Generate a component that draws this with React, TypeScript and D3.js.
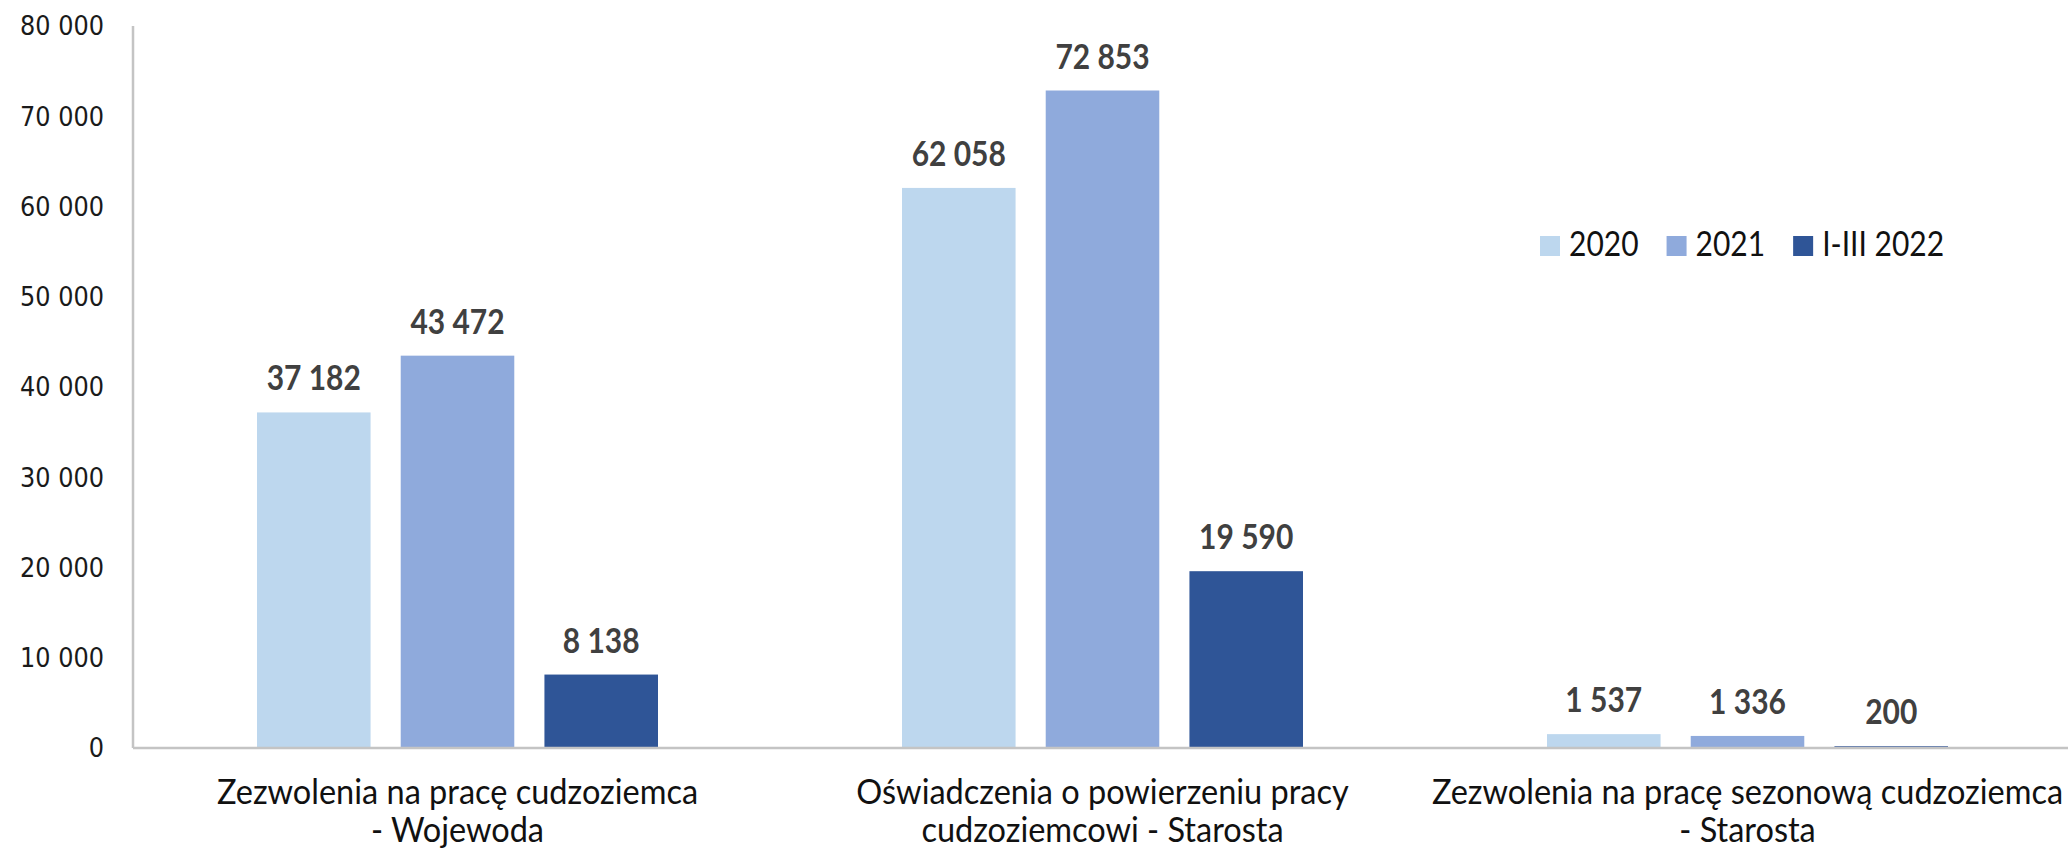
import React, { useEffect, useRef } from "react";
import * as d3 from "d3";

const categories = [
  ["Zezwolenia na pracę cudzoziemca", "- Wojewoda"],
  ["Oświadczenia o powierzeniu pracy", "cudzoziemcowi - Starosta"],
  ["Zezwolenia na pracę sezonową cudzoziemca", "- Starosta"],
];
const seriesNames = ["2020", "2021", "I-III 2022"];
const seriesColors = ["#BDD7EE", "#8FAADC", "#2F5597"];
const values2020 = [37182, 62058, 1537];
const values2021 = [43472, 72853, 1336];
const values2022 = [8138, 19590, 200];
const yTicks = [0, 10000, 20000, 30000, 40000, 50000, 60000, 70000, 80000];

const W = 2068;
const H = 851;
const fmt = (v: number) => d3.format(",")(v).replace(/,/g, " ");
const TXT = "Lato, 'Open Sans', sans-serif";
const VS = 1.15; // Calibri-like text looks stretched upward a bit

const App = () => {
  const svgRef = useRef<SVGSVGElement>(null);

  useEffect(() => {
    document.body.style.margin = "0";
    const svg = d3.select(svgRef.current);
    svg.selectAll("*").remove();

    const m = { left: 133, right: 0, top: 26, bottom: 103 };
    const x0 = d3
      .scaleBand<number>()
      .domain(d3.range(categories.length))
      .range([m.left, W - m.right])
      .paddingInner(0)
      .paddingOuter(0);
    const groupW = 401;
    const x1 = d3
      .scaleBand<number>()
      .domain(d3.range(seriesNames.length))
      .range([0, groupW])
      .paddingInner(30 / 143)
      .paddingOuter(0);
    const y = d3.scaleLinear().domain([0, 80000]).range([H - m.bottom, m.top]);

    const series = [values2020, values2021, values2022];
    const barX = (i: number, si: number) => x0(i)! + (x0.bandwidth() - groupW) / 2 + x1(si)! + 2;

    // y axis line
    svg
      .append("line")
      .attr("x1", m.left)
      .attr("x2", m.left)
      .attr("y1", y(80000))
      .attr("y2", y(0))
      .attr("stroke", "#C4C4C4")
      .attr("stroke-width", 2.5);

    // y tick labels
    svg
      .append("g")
      .selectAll("text")
      .data(yTicks)
      .enter()
      .append("text")
      .attr("transform", (d) => `translate(104,${y(d)}) scale(1,1.08)`)
      .attr("dy", "0.36em")
      .attr("text-anchor", "end")
      .style("font-family", "'DejaVu Sans', Verdana, sans-serif")
      .style("font-size", "24px")
      .style("fill", "#1a1a1a")
      .text((d) => fmt(d));

    // bars + value labels
    series.forEach((vals, si) => {
      const g = svg.append("g");
      g.selectAll("rect")
        .data(vals)
        .enter()
        .append("rect")
        .attr("x", (_, i) => barX(i, si))
        .attr("width", x1.bandwidth())
        .attr("y", (d) => y(d))
        .attr("height", (d) => y(0) - y(d))
        .attr("fill", seriesColors[si]);

      g.selectAll("text")
        .data(vals)
        .enter()
        .append("text")
        .attr(
          "transform",
          (d, i) => `translate(${barX(i, si) + x1.bandwidth() / 2},${y(d) - 22}) scale(1,${VS})`
        )
        .attr("text-anchor", "middle")
        .style("font-family", TXT)
        .style("font-weight", "bold")
        .style("font-size", "30px")
        .style("fill", "#404040")
        .text((d) => fmt(d));
    });

    // x axis line
    svg
      .append("line")
      .attr("x1", m.left)
      .attr("x2", W)
      .attr("y1", y(0))
      .attr("y2", y(0))
      .attr("stroke", "#C4C4C4")
      .attr("stroke-width", 2.5);

    // category labels
    categories.forEach((lines, i) => {
      lines.forEach((line, li) => {
        svg
          .append("text")
          .attr(
            "transform",
            `translate(${x0(i)! + x0.bandwidth() / 2 + 2},${804 + li * 38}) scale(1,1.05)`
          )
          .attr("text-anchor", "middle")
          .style("font-family", TXT)
          .style("font-size", "32.5px")
          .style("fill", "#111")
          .text(line);
      });
    });

    // legend
    const legend = svg.append("g").attr("transform", "translate(1540,236)");
    let lx = 0;
    seriesNames.forEach((name, i) => {
      legend
        .append("rect")
        .attr("x", lx)
        .attr("y", 0)
        .attr("width", 20)
        .attr("height", 20)
        .attr("fill", seriesColors[i]);
      const t = legend
        .append("text")
        .attr("transform", `translate(${lx + 29},20) scale(1,${VS})`)
        .style("font-family", TXT)
        .style("font-size", "30px")
        .style("fill", "#111")
        .text(name);
      const tw = (t.node() as SVGTextElement).getComputedTextLength();
      lx += 29 + tw + 28;
    });
  }, []);

  return <svg ref={svgRef} width={W} height={H} style={{ display: "block", background: "#fff" }} />;
};

export default App;
